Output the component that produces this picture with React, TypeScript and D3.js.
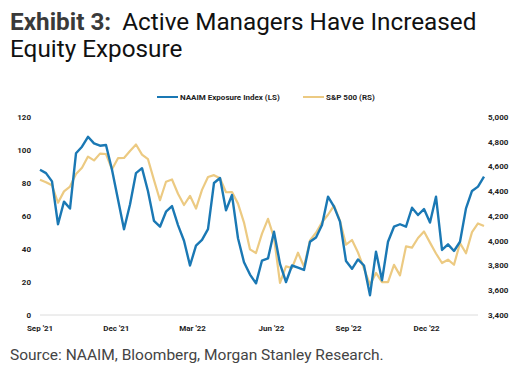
import React, { useEffect, useRef } from "react";
import * as d3 from "d3";

// weekly readings, first week = 9 Sep 2021
const startDate = new Date(2021, 8, 9);

const naaim = [
  88, 86, 81, 55, 68.7, 64.5, 98, 102, 108, 104, 102.6, 103, 88, 70, 52, 67, 86, 89, 75, 57,
  53.5, 62.6, 66, 54.5, 45, 30, 42, 45.5, 52, 80, 83, 63.5, 72.7, 46.5, 32, 24.5, 19.2, 33,
  34.3, 50.5, 31, 20, 30, 28.7, 27.3, 44.4, 47, 54.5, 71.7, 65.7, 56.6, 32.7, 28, 33.7, 30,
  12, 38.4, 21, 44.4, 53.5, 55, 53.5, 65, 60.6, 64.2, 56, 71.7, 39.4, 42.8, 38.8, 44.4, 64.6,
  75.2, 77.8, 83.8,
];

const spx = [
  4493, 4473, 4448, 4307, 4399, 4438, 4540, 4590, 4680, 4649, 4704, 4701, 4577, 4667, 4669,
  4725, 4778, 4696, 4659, 4490, 4327, 4477, 4495, 4380, 4289, 4363, 4260, 4411, 4515, 4530,
  4505, 4392, 4393, 4300, 4147, 3930, 3901, 4057, 4177, 4025, 3660, 3793, 3780, 3903, 3790,
  4002, 4065, 4150, 4210, 4284, 4160, 3968, 4006, 3905, 3775, 3645, 3740, 3666, 3665, 3805,
  3720, 3954, 3945, 4022, 4075, 3985, 3897, 3820, 3847, 3806, 3981, 3899, 4070, 4140, 4119,
];

const leftTicks = [0, 20, 40, 60, 80, 100, 120];
const rightTicks = [3400, 3600, 3800, 4000, 4200, 4400, 4600, 4800, 5000];
const xTickDates = ["2021-09-09", "2021-12-07", "2022-03-06", "2022-06-06", "2022-09-04", "2022-12-04"];
const xTickLabels = ["Sep '21", "Dec '21", "Mar '22", "Jun '22", "Sep '22", "Dec '22"];

const blue = "#1a78b4";
const gold = "#ecca82";

export default function App() {
  const ref = useRef<SVGSVGElement>(null);

  useEffect(() => {
    const svg = d3.select(ref.current);
    svg.selectAll("*").remove();

    const dates = naaim.map((_, i) => d3.timeDay.offset(startDate, 7 * i));
    const x = d3.scaleTime().domain([dates[0], dates[dates.length - 1]]).range([40, 484]);
    const yL = d3.scaleLinear().domain([0, 120]).range([315, 117]);
    const yR = d3.scaleLinear().domain([3400, 5000]).range([315, 117]);

    // title
    const title = svg.append("text").attr("x", 10).attr("y", 30).style("font-family", "Roboto").style("font-size", "24.3px");
    title.append("tspan").attr("font-weight", 700).attr("fill", "#3a3a3a").text("Exhibit 3:");
    title.append("tspan").attr("fill", "#111").attr("dx", 11).text("Active Managers Have Increased");
    svg.append("text").attr("x", 10).attr("y", 57).style("font-family", "Roboto").style("font-size", "24.3px")
      .attr("fill", "#111").text("Equity Exposure");

    const lab = (s: any) => s.style("font-family", "Roboto").style("font-size", "8px").attr("font-weight", 700).attr("fill", "#222");

    // baseline
    svg.append("line").attr("x1", 40).attr("x2", 478).attr("y1", yL(0)).attr("y2", yL(0)).attr("stroke", "#dcdcdc").attr("stroke-width", 1);

    leftTicks.forEach((t) => {
      lab(svg.append("text")).attr("x", 31).attr("y", yL(t) + 2.8).attr("text-anchor", "end").text(t);
    });
    rightTicks.forEach((t) => {
      lab(svg.append("text")).attr("x", 488).attr("y", yR(t) + 2.8).text(d3.format(",")(t));
    });
    xTickDates.forEach((d, i) => {
      lab(svg.append("text")).attr("x", x(new Date(d + "T00:00:00"))).attr("y", 331).attr("text-anchor", "middle").text(xTickLabels[i]);
    });

    const line = (ys: any) => d3.line<number>().x((_, i) => x(dates[i])).y((v) => ys(v));

    svg.append("path").datum(spx).attr("fill", "none").attr("stroke", gold).attr("stroke-width", 2.2).attr("stroke-linejoin", "round").attr("d", line(yR));
    svg.append("path").datum(naaim).attr("fill", "none").attr("stroke", blue).attr("stroke-width", 2.4).attr("stroke-linejoin", "round").attr("d", line(yL));

    // legend
    const lg = svg.append("g");
    lg.append("line").attr("x1", 157).attr("x2", 178).attr("y1", 97).attr("y2", 97).attr("stroke", blue).attr("stroke-width", 2);
    lab(lg.append("text")).attr("x", 180).attr("y", 99.8).text("NAAIM Exposure Index (LS)");
    lg.append("line").attr("x1", 303).attr("x2", 324).attr("y1", 97).attr("y2", 97).attr("stroke", gold).attr("stroke-width", 2);
    lab(lg.append("text")).attr("x", 326).attr("y", 99.8).text("S&P 500 (RS)");

    svg.append("text").attr("x", 10).attr("y", 360).style("font-family", "Roboto").style("font-size", "15.5px")
      .attr("fill", "#444").text("Source: NAAIM, Bloomberg, Morgan Stanley Research.");
  }, []);

  return <svg ref={ref} width={529} height={390} style={{ position: "absolute", left: 0, top: 0, background: "#fff" }} />;
}
